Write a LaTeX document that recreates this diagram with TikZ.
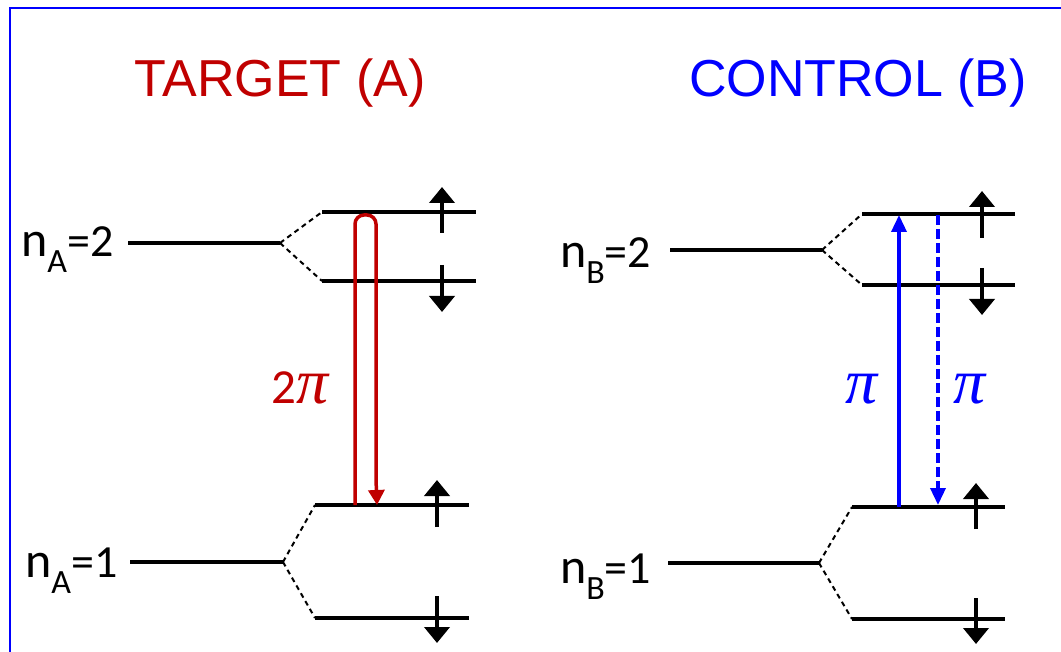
\documentclass[tikz,border=0pt]{standalone}
\usepackage{fontspec}
\usetikzlibrary{arrows.meta}
\newfontfamily\arialf{Liberation Sans}
\newfontfamily\calf{Carlito}
\newfontfamily\pif{Liberation Serif}
\definecolor{tred}{RGB}{192,0,0}
\definecolor{cblue}{RGB}{0,0,255}
\newcommand{\lvlabel}[2]{{\calf\fontsize{50}{50}\selectfont n}\raisebox{-16pt}{\calf\fontsize{34}{34}\selectfont #1}{\calf\fontsize{46}{46}\selectfont =#2}}
\newcommand{\mypi}{{\pif\itshape\fontsize{64}{64}\selectfont π}}
\tikzset{
  level/.style={line width=4pt},
  split/.style={line width=2pt, dash pattern=on 5pt off 4pt},
  spin/.style={line width=4pt, -{Triangle[width=25pt,length=16pt]}},
  lbl/.style={inner sep=0pt, anchor=base west},
  title/.style={inner sep=0pt, anchor=base, font=\arialf\fontsize{52}{52}\selectfont},
  blu/.style={cblue, line width=3.5pt, -{Triangle[width=15pt,length=17pt]}},
}
\begin{document}
\begin{tikzpicture}[x=1pt,y=-1pt]
\useasboundingbox (0,0) rectangle (1061,652);
\draw[cblue, line width=2pt] (10,8) rectangle (1075,665);
% titles
\node[title, text=tred] (tA) at (280,97) {TARGET (A)};
\node[title, text=cblue] (tB) at (858,97) {CONTROL (B)};
% ---------- left panel ----------
\node[lbl] (lA2) at (21,257) {\lvlabel{A}{2}};
\node[lbl] (lA1) at (25,577) {\lvlabel{A}{1}};
\coordinate (A2L) at (128,243); \coordinate (A2J) at (280,243);
\coordinate (A2uL) at (322,212); \coordinate (A2uR) at (476,212);
\coordinate (A2dL) at (322,281); \coordinate (A2dR) at (476,281);
\draw[level] (A2L) -- (A2J);
\draw[split] (A2J) -- (A2uL) (A2J) -- (A2dL);
\draw[level] (A2uL) -- (A2uR);
\draw[level] (A2dL) -- (A2dR);
\coordinate (A1L) at (130,562); \coordinate (A1J) at (283,562);
\coordinate (A1uL) at (315,505); \coordinate (A1uR) at (469,505);
\coordinate (A1dL) at (315,618); \coordinate (A1dR) at (469,618);
\draw[level] (A1L) -- (A1J);
\draw[split] (A1J) -- (A1uL) (A1J) -- (A1dL);
\draw[level] (A1uL) -- (A1uR);
\draw[level] (A1dL) -- (A1dR);
% spins left
\coordinate (sa1) at (442,233); \coordinate (sa1t) at (442,187);
\coordinate (sa2) at (442,265); \coordinate (sa2t) at (442,312);
\coordinate (sa3) at (437,527); \coordinate (sa3t) at (437,480);
\coordinate (sa4) at (437,596); \coordinate (sa4t) at (437,643);
\draw[spin] (sa1) -- (sa1t);
\draw[spin] (sa2) -- (sa2t);
\draw[spin] (sa3) -- (sa3t);
\draw[spin] (sa4) -- (sa4t);
% red 2pi loop
\coordinate (r1) at (355,505); \coordinate (r2) at (355,215);
\coordinate (r3) at (376,215); \coordinate (r4) at (377,505);
\draw[tred, line width=3.5pt, rounded corners=9pt, -{Triangle[width=16pt,length=15pt]}] (r1) -- (r2) -- (r3) -- (376,480) -- (r4);
\node[inner sep=0pt, anchor=base west, text=tred] (p2) at (271,403) {{\calf\fontsize{49}{49}\selectfont 2}\mypi};
% ---------- right panel ----------
\node[lbl] (lB2) at (560,268) {\lvlabel{B}{2}};
\node[lbl] (lB1) at (560,583) {\lvlabel{B}{1}};
\coordinate (B2L) at (670,250); \coordinate (B2J) at (822,250);
\coordinate (B2uL) at (862,214); \coordinate (B2uR) at (1015,214);
\coordinate (B2dL) at (862,285); \coordinate (B2dR) at (1015,285);
\draw[level] (B2L) -- (B2J);
\draw[split] (B2J) -- (B2uL) (B2J) -- (B2dL);
\draw[level] (B2uL) -- (B2uR);
\draw[level] (B2dL) -- (B2dR);
\coordinate (B1L) at (668,563); \coordinate (B1J) at (819,563);
\coordinate (B1uL) at (852,507); \coordinate (B1uR) at (1005,507);
\coordinate (B1dL) at (852,619); \coordinate (B1dR) at (1005,619);
\draw[level] (B1L) -- (B1J);
\draw[split] (B1J) -- (B1uL) (B1J) -- (B1dL);
\draw[level] (B1uL) -- (B1uR);
\draw[level] (B1dL) -- (B1dR);
\coordinate (sb1) at (982,238); \coordinate (sb1t) at (982,191);
\coordinate (sb2) at (982,268); \coordinate (sb2t) at (982,315);
\coordinate (sb3) at (976,529); \coordinate (sb3t) at (976,483);
\coordinate (sb4) at (976,598); \coordinate (sb4t) at (976,644);
\draw[spin] (sb1) -- (sb1t);
\draw[spin] (sb2) -- (sb2t);
\draw[spin] (sb3) -- (sb3t);
\draw[spin] (sb4) -- (sb4t);
% blue pi arrows
\coordinate (bu0) at (899,507); \coordinate (bu1) at (899,215);
\coordinate (bd0) at (938,215); \coordinate (bd1) at (938,505);
\draw[blu] (bu0) -- (bu1);
\draw[blu, dash pattern=on 10pt off 4pt] (bd0) -- (bd1);
\node[inner sep=0pt, anchor=base west, text=cblue] (pb1) at (845,403) {\mypi};
\node[inner sep=0pt, anchor=base west, text=cblue] (pb2) at (953,403) {\mypi};
\end{tikzpicture}
\end{document}
